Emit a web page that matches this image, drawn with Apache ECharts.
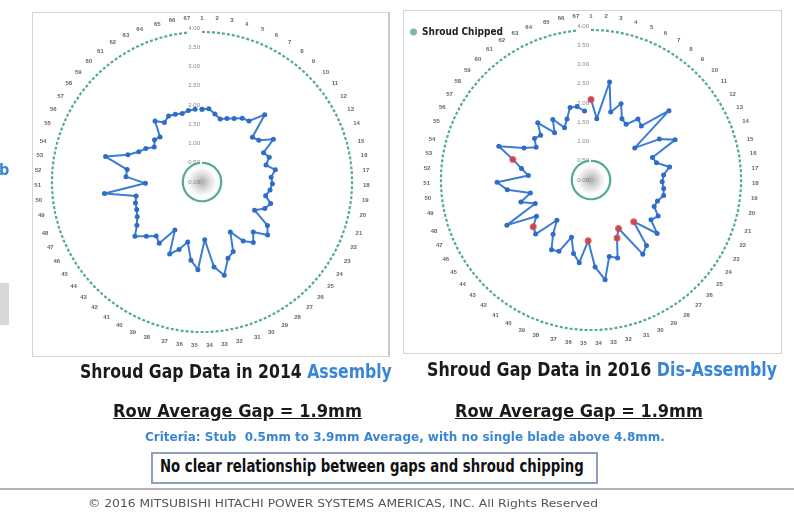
<!DOCTYPE html>
<html lang="en">
<head>
<meta charset="utf-8">
<title>Shroud Gap Data</title>
<script src="https://cdn.jsdelivr.net/npm/echarts@6.0.0/dist/echarts.min.js"></script>
<style>
	body { margin:0; width:794px; height:516px; overflow:hidden; background:#fff;
		font-family:"Liberation Sans Narrow","DejaVu Sans Condensed","Liberation Sans",sans-serif; }
	#main { position:absolute; left:0; top:0; width:794px; height:516px; z-index:2; }
	.panel { position:absolute; border:1px solid #d4d4d4; z-index:1; }
	.t { position:absolute; white-space:nowrap; font-weight:bold; transform-origin:0 50%; z-index:3; }
	.blue { color:#3a86d6; }
</style>
</head>
<body>
	<!-- slide panels -->
	<div class="panel" style="left:32px;top:12px;width:355px;height:343px;border-right:2px solid #c8c8c8"></div>
	<div class="panel" style="left:403px;top:10px;width:377px;height:342px"></div>
	<div style="position:absolute;left:0;top:283px;width:9px;height:42px;background:#d8d8d8"></div>
	<div class="t blue" style="left:-1px;top:160px;font-size:16px">b</div>

	<div id="main"></div>

	<!-- captions -->
	<div class="t" data-w="312" style="left:80px;top:359px;font-size:20px;color:#1a1a1a">Shroud Gap Data in 2014 <span class="blue">Assembly</span></div>
	<div class="t" data-w="350" style="left:427px;top:357px;font-size:20px;color:#1a1a1a">Shroud Gap Data in 2016 <span class="blue">Dis-Assembly</span></div>
	<div class="t" data-w="249" style="left:113px;top:400px;font-size:18px;color:#1a1a1a;text-decoration:underline">Row Average Gap = 1.9mm</div>
	<div class="t" data-w="248" style="left:455px;top:400px;font-size:18px;color:#1a1a1a;text-decoration:underline">Row Average Gap = 1.9mm</div>
	<div class="t blue" data-w="520" style="left:145px;top:429px;font-size:13px">Criteria: Stub&nbsp; 0.5mm to 3.9mm Average, with no single blade above 4.8mm.</div>
	<div style="position:absolute;left:151px;top:452px;width:443px;height:28px;border:2px solid #8e9fbd;background:#fff;z-index:2"></div>
	<div class="t" data-w="424" style="left:160px;top:456px;font-size:17px;color:#111">No clear relationship between gaps and shroud chipping</div>
	<div style="position:absolute;left:0;top:488px;width:794px;height:2px;background:#b5b5b5"></div>
	<div class="t" data-w="510" style="left:88px;top:497px;font-size:11px;color:#555;font-weight:normal">© 2016 MITSUBISHI HITACHI POWER SYSTEMS AMERICAS, INC. All Rights Reserved</div>

	<script type="text/javascript">
		// blade numbers around the ring
		var blades = [];
		for (var b = 1; b <= 67; b++) blades.push(String(b));
		// shroud gap (mm) per blade, 2014 assembly
		var gap2014 = [1.89, 1.91, 1.80, 1.70, 1.77, 1.85, 1.96, 2.00, 2.39, 1.75,
			1.83, 2.16, 1.77, 1.86, 1.72, 1.93, 1.80, 1.83, 1.78, 1.69,
			1.87, 1.77, 1.55, 2.04, 2.19, 1.86, 2.06, 1.87, 1.49, 1.98,
			2.09, 2.49, 2.23, 1.50, 2.28, 2.05, 1.60, 1.85, 2.05, 1.43,
			1.94, 1.84, 2.02, 2.24, 2.03, 1.91, 1.84, 1.81, 1.75, 2.55,
			1.47, 1.98, 1.97, 2.59, 2.05, 1.82, 1.70, 1.54, 1.65, 1.60,
			2.00, 1.83, 1.92, 1.89, 1.85, 1.89, 1.90];
		// shroud gap (mm) per blade, 2016 dis-assembly
		var gap2016 = [2.09, 1.60, 2.59, 1.84, 2.13, 1.78, 1.71, 2.00, 1.92, 2.71,
			1.41, 2.07, 2.42, 1.70, 1.76, 2.07, 1.89, 1.85, 1.90, 1.93,
			1.81, 1.78, 1.98, 1.87, 2.21, 1.55, 2.23, 2.35, 1.45, 1.65,
			2.14, 2.04, 2.62, 2.26, 1.58, 2.17, 1.96, 1.57, 2.03, 2.08,
			1.72, 1.37, 2.01, 1.93, 1.70, 2.48, 1.57, 1.91, 1.61, 2.19,
			2.44, 1.63, 1.83, 2.10, 2.55, 1.93, 1.66, 1.82, 1.75, 2.03,
			1.55, 1.86, 1.52, 1.70, 1.96, 1.94, 1.80];
		// blades (index) with chipped shroud in 2016
		var chipped2016 = [0, 25, 28, 29, 34, 43, 53];
		// criteria limits (mm)
		var criteriaMin = 0.5;
		var criteriaMax = 3.9;

		var green = '#55ab8e';
		var blue = '#3b7dd6';

		// closed ring of [radius, blade]
		function ring(values) {
			var d = values.map(function(v, i) { return [v, blades[i]]; });
			d.push([values[0], blades[0]]);
			return d;
		}
		function constRing(v) {
			return ring(blades.map(function() { return v; }));
		}

		function angleAxis(idx) {
			return {
				polarIndex: idx, type: 'category', data: blades, boundaryGap: false,
				startAngle: 90, clockwise: true,
				axisLine: {show: false}, axisTick: {show: false}, splitLine: {show: false},
				axisLabel: {interval: 0, fontSize: 6, color: '#666', margin: 7, fontWeight: 'bold'}
			};
		}
		function radiusAxis(idx) {
			return {
				polarIndex: idx, min: 0, max: 4, interval: 0.5,
				axisLine: {show: false}, axisTick: {show: false}, splitLine: {show: false},
				axisLabel: {fontSize: 6, color: '#888', margin: 2,
					formatter: function(v) { return v.toFixed(2); }}
			};
		}
		function chartSeries(idx, gaps) {
			return [
				{
					type: 'scatter', coordinateSystem: 'polar', polarIndex: idx, silent: true,
					data: [[0, blades[0]]], symbolSize: 30, z: 1,
					itemStyle: {color: {type: 'radial', x: 0.5, y: 0.5, r: 0.5,
						colorStops: [{offset: 0, color: 'rgba(110,110,110,0.75)'},
							{offset: 1, color: 'rgba(160,160,160,0)'}]}}
				},
				{
					type: 'line', coordinateSystem: 'polar', polarIndex: idx, data: constRing(criteriaMin),
					symbol: 'none', lineStyle: {color: green, width: 2.2}, z: 2
				},
				{
					type: 'line', coordinateSystem: 'polar', polarIndex: idx, data: constRing(criteriaMax),
					symbol: 'none', lineStyle: {color: green, width: 2.2, type: [3, 2]}, z: 2
				},
				{
					type: 'line', coordinateSystem: 'polar', polarIndex: idx, data: ring(gaps),
					symbol: 'circle', symbolSize: 5, showSymbol: true,
					lineStyle: {color: blue, width: 2}, itemStyle: {color: '#2f6cc6'}, z: 3
				}
			];
		}

		var myChart = echarts.init(document.getElementById('main'));
		var series = chartSeries(0, gap2014).concat(chartSeries(1, gap2016));
		series.push({
			name: 'Shroud Chipped', type: 'scatter', coordinateSystem: 'polar', polarIndex: 1,
			data: chipped2016.map(function(i) { return [gap2016[i], blades[i]]; }),
			symbolSize: 7, itemStyle: {color: '#e5433c'}, z: 4
		});

		var option = {
			animation: false,
			legend: {
				left: 405, top: 22, icon: 'circle', itemWidth: 7, itemHeight: 7,
				data: [{name: 'Shroud Chipped', itemStyle: {color: green}}],
				textStyle: {fontSize: 10, fontWeight: 'bold', color: '#222',
					fontFamily: '"Liberation Sans Narrow","DejaVu Sans Condensed",sans-serif'}
			},
			polar: [
				{center: [202, 182], radius: 154},
				{center: [591, 180], radius: 154}
			],
			angleAxis: [angleAxis(0), angleAxis(1)],
			radiusAxis: [radiusAxis(0), radiusAxis(1)],
			series: series
		};
		myChart.setOption(option);

		// squeeze texts to the widths seen on the slide
		var texts = document.querySelectorAll('[data-w]');
		for (var k = 0; k < texts.length; k++) {
			var el = texts[k];
			var w = +el.getAttribute('data-w');
			el.style.transform = 'scaleX(' + (w / el.offsetWidth) + ')';
		}
	</script>
</body>
</html>
